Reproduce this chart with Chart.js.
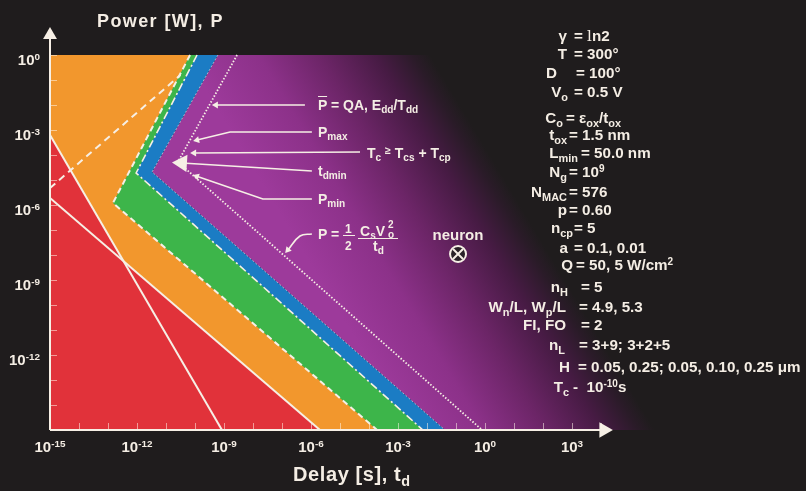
<!DOCTYPE html>
<html lang="en">
<head>
<meta charset="utf-8">
<title>Power vs delay</title>
<script src="https://cdn.jsdelivr.net/npm/chart.js@4.4.1/dist/chart.umd.min.js"></script>
<style>
  html, body { margin: 0; padding: 0; background: #1f1c1d; overflow: hidden; }
  #wrap { position: relative; width: 806px; height: 491px; }
  #c { position: absolute; left: 0; top: 0; }
  .lbl { position: absolute; line-height: 1; white-space: nowrap; font-family: "Liberation Sans", Arial, sans-serif; font-weight: bold; color: #f4ede4; }
  .lbl sub { font-size: 0.72em; vertical-align: -0.32em; line-height: 0; }
  .lbl sup { font-size: 0.66em; vertical-align: 0.5em; line-height: 0; }
  .serif { font-family: "DejaVu Serif", serif; font-weight: normal; }
  .bar { position: absolute; height: 0; border-top: 1.6px solid #f4ede4; }
</style>
</head>
<body>
<div id="wrap"><canvas id="c" width="806" height="491"></canvas></div>
<script>
// every point is [log10 delay t_d (s), log10 power P (W)]
const xLabelExps = [-15, -12, -9, -6, -3, 0, 3];
const yLabelExps = [0, -3, -6, -9, -12];
const xTickExps = [-14, -13, -12, -11, -10, -9, -8, -7, -6, -5, -4, -3, -2, -1, 0, 1, 2, 3, 4];
const yTickExps = [-14, -13, -12, -11, -10, -9, -8, -7, -6, -5, -4, -3, -2, -1, 0];
const xRange = [-15, 6];
const yRange = [-15, 1.2];

const steepLine = [[-15, -3.2], [-9.07, -15]];          // P ~ t^-2
const flatLine = [[-15, -5.72], [-5.69, -15]];          // P ~ t^-1
const redEdge = [[-15, -3.2], [-12.48, -8.24], [-5.69, -15]];
const orangeEdge = [[-10.17, 0], [-12.83, -5.92], [-3.72, -15]];
const greenEdge = [[-9.93, 0], [-12.03, -4.72], [-2.14, -15]];
const blueEdge = [[-9.21, 0], [-11.48, -4.68], [-1.38, -15]];
const dottedEdge = [[-8.55, 0], [-10.59, -4.28], [-0.10, -15]];
const risingDash = [[-15, -5.32], [-10.5, -0.8]];
const purpleFade = [[-1.9, 0], [5.86, -15]];
const neuron = [[-0.93, -7.96]];

// leader arrows of the labels, last point = arrow head
const leaders = [
  [[-6.21, -2.0], [-9.28, -2.0]],
  [[-5.97, -3.08], [-8.79, -3.08], [-9.93, -3.40]],
  [[-4.31, -3.88], [-10.03, -3.92]],
  [[-5.97, -4.64], [-10.45, -4.32]],
  [[-5.97, -5.76], [-7.66, -5.76], [-9.94, -4.85]],
  [[-5.97, -7.16], [-6.38, -7.24], [-6.80, -7.80]]
];
const yAxisLine = [[-15, -15], [-15, 0.8]];
const xAxisLine = [[-15, -15], [4.1, -15]];

const WHITE = '#f6efe5';

function pts(list) {
  return list.map(p => ({x: Math.pow(10, p[0]), y: Math.pow(10, p[1])}));
}
function leftOf(edge) {
  return [[xRange[0], 0], ...edge, [xRange[0], yRange[0]]];
}

function area(poly, color, order) {
  return {data: pts(poly), showLine: true, fill: 'shape', backgroundColor: color,
          borderColor: 'transparent', borderWidth: 0, pointRadius: 0, order: order};
}
function stroke(line, width, dash, color) {
  return {data: pts(line), showLine: true, fill: false, borderColor: color || WHITE,
          borderWidth: width, borderDash: dash || [], borderJoinStyle: 'miter', pointRadius: 0, order: 3};
}
function headAngle(c) {
  const d = c.dataset.data, i = c.dataIndex;
  if (i === 0) return 0;
  const xs = c.chart.scales.x, ys = c.chart.scales.y;
  const dx = xs.getPixelForValue(d[i].x) - xs.getPixelForValue(d[i - 1].x);
  const dy = ys.getPixelForValue(d[i].y) - ys.getPixelForValue(d[i - 1].y);
  return Math.atan2(dx, -dy) * 180 / Math.PI;
}
function arrow(line, width, head, order, tension) {
  return {data: pts(line), showLine: true, fill: false, borderColor: WHITE, borderWidth: width,
          tension: tension || 0, pointStyle: 'triangle', pointBackgroundColor: WHITE, pointBorderWidth: 0,
          pointRadius: c => (c.dataIndex === line.length - 1 ? head : 0),
          pointRotation: headAngle, order: order, clip: false};
}

function purpleFill(c) {
  const chart = c.chart;
  const xs = chart.scales.x, ys = chart.scales.y;
  if (!chart.chartArea || !xs || !ys) return '#9b3799';
  const px = p => [xs.getPixelForValue(Math.pow(10, p[0])), ys.getPixelForValue(Math.pow(10, p[1]))];
  const a = px(purpleFade[0]), b = px(purpleFade[1]);
  let nx = b[1] - a[1], ny = -(b[0] - a[0]);
  const len = Math.hypot(nx, ny);
  nx /= len; ny /= len;
  const g = chart.ctx.createLinearGradient(a[0] - 210 * nx, a[1] - 210 * ny, a[0], a[1]);
  g.addColorStop(0, '#9d3a9b');
  g.addColorStop(0.3, '#8c3189');
  g.addColorStop(0.55, '#6c2567');
  g.addColorStop(0.78, '#471b44');
  g.addColorStop(0.93, '#2a1b28');
  g.addColorStop(1, '#1f1c1d');
  return g;
}

const innerTicks = {
  id: 'innerTicks',
  afterDatasetsDraw(chart) {
    const {ctx, scales: {x, y}} = chart;
    const x0 = x.getPixelForValue(Math.pow(10, xRange[0]));
    const y0 = y.getPixelForValue(Math.pow(10, yRange[0]));
    ctx.save();
    ctx.strokeStyle = 'rgba(255,244,232,0.55)';
    ctx.lineWidth = 1;
    ctx.beginPath();
    xTickExps.forEach(e => {
      const p = Math.round(x.getPixelForValue(Math.pow(10, e))) + 0.5;
      ctx.moveTo(p, y0 - 1); ctx.lineTo(p, y0 - 7);
    });
    yTickExps.forEach(e => {
      const p = Math.round(y.getPixelForValue(Math.pow(10, e))) + 0.5;
      ctx.moveTo(x0 + 1, p); ctx.lineTo(x0 + 7, p);
    });
    ctx.stroke();
    ctx.restore();
  }
};

const purplePoly = [blueEdge[0], [xRange[1], 0], [xRange[1], yRange[0]], blueEdge[2], blueEdge[1]];

const chart = new Chart(document.getElementById('c'), {
  type: 'scatter',
  data: {
    datasets: [
      area(purplePoly, purpleFill, 10),
      area(leftOf(blueEdge), '#1b7cc4', 9),
      area(leftOf(greenEdge), '#3db54a', 8),
      area(leftOf(orangeEdge), '#f2972d', 7),
      area([...redEdge, [xRange[0], yRange[0]]], '#e1323a', 6),
      stroke(steepLine, 2),
      stroke(flatLine, 2),
      stroke(orangeEdge, 2, [6, 4]),
      stroke(greenEdge, 1.6, [8, 3, 2, 3]),
      stroke(blueEdge, 1, [2, 2], 'rgba(255,255,255,0.55)'),
      stroke(dottedEdge, 1.8, [1.5, 1.8]),
      stroke(risingDash, 2, [7, 5]),
      arrow(leaders[0], 1.6, 4, 2),
      arrow(leaders[1], 1.6, 4, 2),
      arrow(leaders[2], 1.6, 4, 2),
      arrow(leaders[3], 1.6, 10, 2),
      arrow(leaders[4], 1.6, 4, 2),
      arrow(leaders[5], 1.6, 4, 2, 0.4),
      {data: pts(neuron), pointStyle: 'crossRot', pointRadius: 7, pointBorderColor: WHITE,
       pointBorderWidth: 2, order: 0.5},
      {data: pts(neuron), pointStyle: 'circle', pointRadius: 8, pointBackgroundColor: '#2a2228',
       pointBorderColor: WHITE, pointBorderWidth: 2, order: 1},
      arrow(yAxisLine, 2, 8, 0),
      arrow(xAxisLine, 2, 9, 0)
    ]
  },
  options: {
    responsive: false,
    animation: false,
    events: [],
    layout: {padding: {left: 0, top: 25, right: 147, bottom: 0}},
    plugins: {legend: {display: false}, tooltip: {enabled: false}, colors: {enabled: false}},
    scales: {
      x: {
        type: 'logarithmic',
        min: Math.pow(10, xRange[0]), max: Math.pow(10, xRange[1]),
        grid: {display: false}, border: {display: false},
        afterBuildTicks: s => { s.ticks = xLabelExps.map(e => ({value: Math.pow(10, e)})); },
        afterFit: s => { s.height = 61; },
        ticks: {display: false}
      },
      y: {
        type: 'logarithmic',
        min: Math.pow(10, yRange[0]), max: Math.pow(10, yRange[1]),
        grid: {display: false}, border: {display: false},
        afterBuildTicks: s => { s.ticks = yLabelExps.map(e => ({value: Math.pow(10, e)})); },
        afterFit: s => { s.width = 50; },
        ticks: {display: false}
      }
    }
  },
  plugins: [innerTicks]
});

// text
const wrap = document.getElementById('wrap');
function label(html, x, base, size, style) {
  const d = document.createElement('div');
  d.className = 'lbl';
  d.innerHTML = html;
  d.style.left = x + 'px';
  d.style.top = (base - 0.85 * size) + 'px';
  d.style.fontSize = size + 'px';
  if (style) Object.assign(d.style, style);
  wrap.appendChild(d);
  return d;
}
function rlabel(html, right, base, size) {
  const d = label(html, 0, base, size);
  d.style.left = 'auto';
  d.style.right = (806 - right) + 'px';
  return d;
}
function bar(x1, x2, y) {
  const d = document.createElement('div');
  d.className = 'bar';
  d.style.left = x1 + 'px';
  d.style.width = (x2 - x1) + 'px';
  d.style.top = y + 'px';
  wrap.appendChild(d);
}

// tick labels, placed with the chart's own scales
const xs = chart.scales.x, ys = chart.scales.y;
xLabelExps.forEach(e => {
  label('10<sup>' + e + '</sup>', xs.getPixelForValue(Math.pow(10, e)), 452, 15, {transform: 'translateX(-50%)'});
});
yLabelExps.forEach(e => {
  rlabel('10<sup>' + e + '</sup>', 40, ys.getPixelForValue(Math.pow(10, e)) + 9.5, 15);
});

label('Power [W], P', 97, 27, 18, {letterSpacing: '1.4px'});
label('Delay [s], t<sub>d</sub>', 293, 481, 20, {letterSpacing: '0.6px'});

label('<span style="text-decoration:overline">P</span> = QA, E<sub>dd</sub>/T<sub>dd</sub>', 318, 110, 14);
label('P<sub>max</sub>', 318, 137, 14);
label('T<sub>c</sub> <span style="font-size:0.75em;vertical-align:0.35em">\u2265</span> T<sub>cs</sub> + T<sub>cp</sub>', 367, 157, 14);
label('t<sub>dmin</sub>', 318, 176, 14);
label('P<sub>min</sub>', 318, 204, 14);

label('P =', 318, 239, 14);
label('1', 345, 233, 12);
bar(343, 355, 235);
label('2', 345, 250, 12);
label('C<sub>s</sub>V', 360, 236, 14);
label('2', 388, 228, 10);
label('o', 388, 238, 10);
bar(358, 398, 237.5);
label('t<sub>d</sub>', 373, 251, 14);

label('neuron', 458, 240, 15, {transform: 'translateX(-50%)'});

const params = [
  ['\u03B3', '= <span class="serif">l</span>n2', 567, 574, 41],
  ['T', '= 300\u00B0', 567, 574, 59],
  ['D', '= 100\u00B0', 557, 576, 78],
  ['V<sub>o</sub>', '= 0.5 V', 568, 574, 97],
  ['C<sub>o</sub>', '= \u03B5<sub>ox</sub>/t<sub>ox</sub>', 563, 566, 123],
  ['t<sub>ox</sub>', '= 1.5 nm', 567, 569, 140],
  ['L<sub>min</sub>', '= 50.0 nm', 578, 581, 158],
  ['N<sub>g</sub>', '= 10<sup>9</sup>', 567, 569, 177],
  ['N<sub>MAC</sub>', '= 576', 567, 569, 197],
  ['p', '= 0.60', 567, 569, 215],
  ['n<sub>cp</sub>', '= 5', 573, 574, 233],
  ['a', '= 0.1, 0.01', 568, 574, 253],
  ['Q', '= 50, 5 W/cm<sup>2</sup>', 573, 576, 270],
  ['n<sub>H</sub>', '= 5', 568, 581, 292],
  ['W<sub>n</sub>/L, W<sub>p</sub>/L', '= 4.9, 5.3', 566, 579, 312],
  ['FI, FO', '= 2', 566, 581, 330],
  ['n<sub>L</sub>', '= 3+9; 3+2+5', 565, 579, 350],
  ['H', '= 0.05, 0.25; 0.05, 0.10, 0.25 \u03BCm', 570, 578, 372],
  ['T<sub>c</sub>', '-&nbsp; 10<sup>-10</sup>s', 569, 573, 392]
];
params.forEach(p => {
  rlabel(p[0], p[2], p[4], 15.2);
  label(p[1], p[3], p[4], 15.2);
});
</script>
</body>
</html>
